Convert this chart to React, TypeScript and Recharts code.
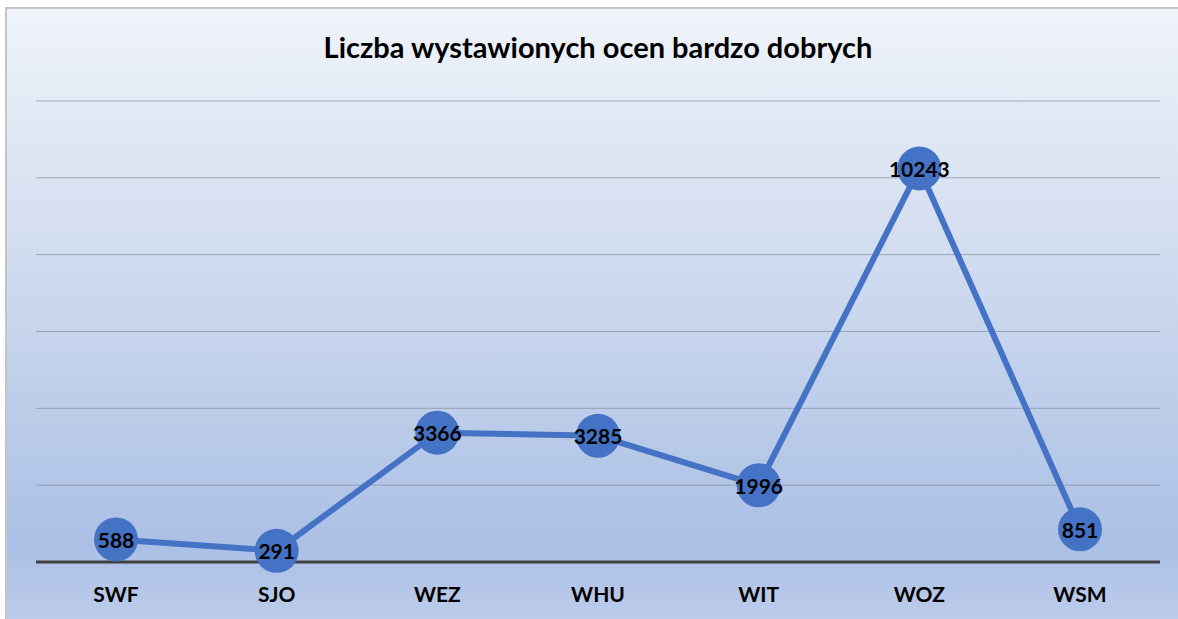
import { LineChart, Line, XAxis, YAxis, CartesianGrid, LabelList } from 'recharts';

const categories = ['SWF', 'SJO', 'WEZ', 'WHU', 'WIT', 'WOZ', 'WSM'];
const grades = [588, 291, 3366, 3285, 1996, 10243, 851];
const yTicks = [0, 2000, 4000, 6000, 8000, 10000, 12000];

const data = categories.map((name, i) => ({ name, value: grades[i] }));

const FONT = 'Lato, "Open Sans", sans-serif';

function ValueLabel(props: any) {
  const { x, y, value } = props;
  return (
    <text
      x={x}
      y={y}
      textAnchor="middle"
      dominantBaseline="central"
      fontFamily={FONT}
      fontWeight={700}
      fontSize={21}
      fill="#000"
    >
      {value}
    </text>
  );
}

function Dot(props: any) {
  const { cx, cy } = props;
  return <circle cx={cx} cy={cy} r={22} fill="#4472c4" />;
}

export default function App() {
  return (
    <div style={{ position: 'absolute', left: 0, top: 0, width: 1178, height: 619, background: '#fff', overflow: 'hidden' }}>
      <div
        style={{
          position: 'absolute',
          left: 5,
          top: 7,
          right: 0,
          bottom: 0,
          borderLeft: '2px solid #c4c4c4',
          borderTop: '2px solid #c4c4c4',
          background: 'linear-gradient(180deg, #f0f4fa 0%, #dde5f3 25%, #c5d3ec 55%, #abc0e5 88%, #bccbea 100%)',
        }}
      />
      <div
        style={{
          position: 'absolute',
          left: 0,
          top: 32,
          width: 1196,
          textAlign: 'center',
          fontFamily: FONT,
          fontWeight: 700,
          fontSize: 29,
          lineHeight: 1,
          color: '#000',
        }}
      >
        Liczba wystawionych ocen bardzo dobrych
      </div>
      <div style={{ position: 'absolute', left: 0, top: 0 }}>
        <LineChart width={1178} height={619} data={data} margin={{ top: 101, right: 18, bottom: 27, left: 36 }}>
          <CartesianGrid vertical={false} stroke="#8a93a6" strokeOpacity={0.75} />
          <XAxis
            dataKey="name"
            padding={{ left: 80, right: 80 }}
            height={30}
            axisLine={{ stroke: '#404040', strokeWidth: 3 }}
            tickLine={false}
            tick={{ fontFamily: FONT, fontWeight: 700, fontSize: 21, fill: '#000' }}
            dy={17}
          />
          <YAxis hide domain={[0, 12000]} ticks={yTicks} />
          <Line
            dataKey="value"
            stroke="#4472c4"
            strokeWidth={6}
            dot={<Dot />}
            activeDot={false}
            isAnimationActive={false}
          >
            <LabelList dataKey="value" content={<ValueLabel />} />
          </Line>
        </LineChart>
      </div>
    </div>
  );
}
